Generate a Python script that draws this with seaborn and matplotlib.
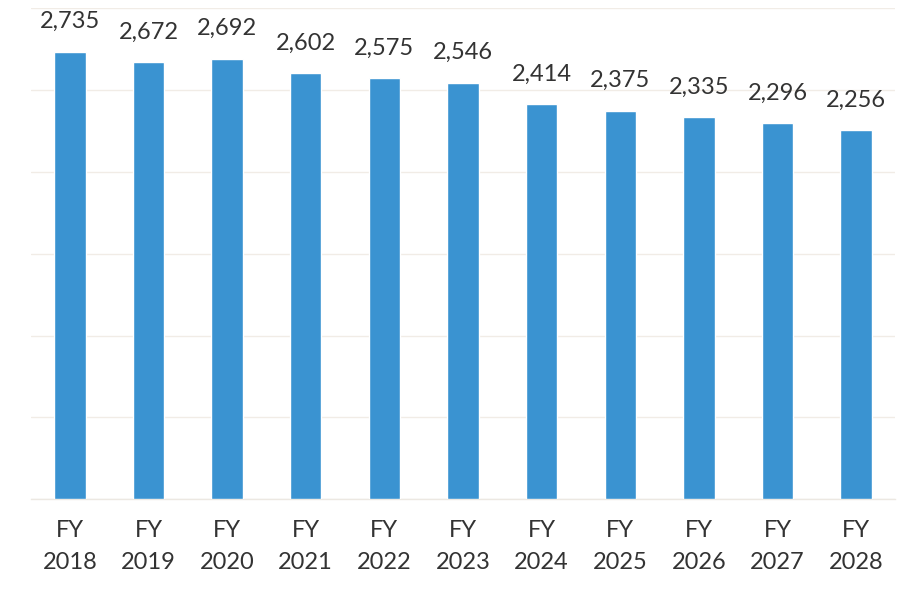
import matplotlib
matplotlib.use("Agg")
import matplotlib.pyplot as plt
import seaborn as sns
import pandas as pd

# Fiscal years and totals
years = ["FY\n2018", "FY\n2019", "FY\n2020", "FY\n2021", "FY\n2022", "FY\n2023",
         "FY\n2024", "FY\n2025", "FY\n2026", "FY\n2027", "FY\n2028"]
values = [2735, 2672, 2692, 2602, 2575, 2546, 2414, 2375, 2335, 2296, 2256]

df = pd.DataFrame({"year": years, "value": values})

sns.set_theme(style="white")
plt.rcParams["font.family"] = ["Lato", "DejaVu Sans"]

fig = plt.figure(figsize=(8.99, 5.90), dpi=100)
ax = fig.add_axes([0.034, 0.154, 0.962, 0.832])

sns.barplot(data=df, x="year", y="value", color="#3a93d1", width=0.4,
            saturation=1, ax=ax, zorder=3)

ax.set_ylim(0, 3000)
ax.set_yticks(range(0, 3001, 500))
ax.yaxis.grid(True, color="#f1ece6", linewidth=1.0, zorder=0)
ax.set_yticklabels([])
ax.tick_params(axis="y", length=0)
ax.tick_params(axis="x", length=0, pad=15, labelsize=17, labelcolor="#333333")
for lbl in ax.get_xticklabels():
    lbl.set_linespacing(1.65)
ax.set_xlabel("")
ax.set_ylabel("")
for side in ["top", "right", "left"]:
    ax.spines[side].set_visible(False)
ax.spines["bottom"].set_color("#ece8e2")
ax.spines["bottom"].set_linewidth(1.0)

for container in ax.containers:
    ax.bar_label(container, labels=[f"{v:,}" for v in values], padding=14,
                 fontsize=17, color="#333333")

fig.savefig("out.png", dpi=100)
